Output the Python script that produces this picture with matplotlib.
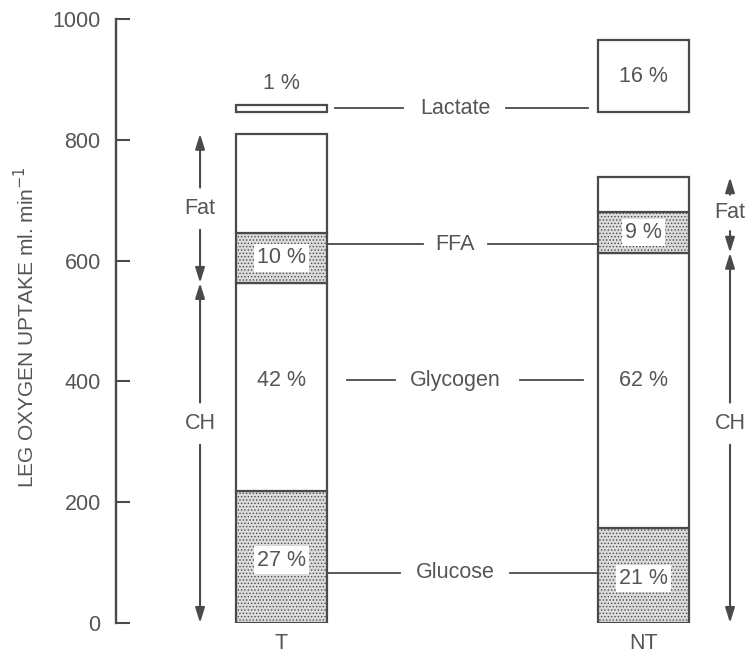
import matplotlib.pyplot as plt
import matplotlib as mpl

plt.rcParams['font.family'] = ['Liberation Sans', 'DejaVu Sans']
plt.rcParams['hatch.color'] = '#9a9a9a'
plt.rcParams['hatch.linewidth'] = 0.6

# data (ml/min)
groups = ['T', 'NT']
glucose = [218, 157]
glycogen = [345, 456]
ffa = [83, 67]
other_fat = [164, 58]
lactate_base = [846, 846]
lactate = [12, 119]

pct_glucose = ['27 %', '21 %']
pct_glycogen = ['42 %', '62 %']
pct_ffa = ['10 %', '9 %']
pct_lactate = ['1 %', '16 %']

row_names = ['Lactate', 'FFA', 'Glycogen', 'Glucose']
row_y = [852, 627, 402, 83]

ink = '#4a4a4a'
txt = '#555555'
shade = '#dcdcdc'
fs = 15.5

fig = plt.figure(figsize=(7.45, 6.57), dpi=100)
ax = fig.add_axes([116 / 745, 34 / 657, 624 / 745, 604 / 657])

xpos = [0, 1]
w = 0.254

# stacked bars
b1 = glucose
b2 = [a + b for a, b in zip(b1, glycogen)]
b3 = [a + b for a, b in zip(b2, ffa)]
ax.bar(xpos, glucose, w, color=shade, hatch='.....', edgecolor=ink, linewidth=1.6, align='center')
ax.bar(xpos, glycogen, w, bottom=b1, color='white', edgecolor=ink, linewidth=1.6)
ax.bar(xpos, ffa, w, bottom=b2, color=shade, hatch='.....', edgecolor=ink, linewidth=1.6)
ax.bar(xpos, other_fat, w, bottom=b3, color='white', edgecolor=ink, linewidth=1.6)
ax.bar(xpos, lactate, w, bottom=lactate_base, color='white', edgecolor=ink, linewidth=1.6)

box = dict(boxstyle='square,pad=0.15', fc='white', ec='none')
for i, x in enumerate(xpos):
    ax.text(x, glucose[i] / 2 - 5, pct_glucose[i], ha='center', va='center', fontsize=fs, color=txt, bbox=box)
    ax.text(x, row_y[2], pct_glycogen[i], ha='center', va='center', fontsize=fs, color=txt)
    ax.text(x, b2[i] + ffa[i] / 2, pct_ffa[i], ha='center', va='center', fontsize=fs, color=txt, bbox=box)
# lactate labels
ax.text(xpos[0], lactate_base[0] + lactate[0] + 35, pct_lactate[0], ha='center', va='center', fontsize=fs, color=txt)
ax.text(xpos[1], lactate_base[1] + lactate[1] / 2, pct_lactate[1], ha='center', va='center', fontsize=fs, color=txt)

# middle labels with connector lines
xc = 0.48
segs = {
    'Lactate': [(0.148, 0.335), (0.62, 0.846)],
    'FFA': [(0.127, 0.391), (0.57, 0.873)],
    'Glycogen': [(0.18, 0.313), (0.66, 0.833)],
    'Glucose': [(0.127, 0.326), (0.63, 0.873)],
}
for name, y in zip(row_names, row_y):
    ax.text(xc, y, name, ha='center', va='center', fontsize=fs, color=txt)
    for a, b in segs[name]:
        ax.plot([a, b], [y, y], color=ink, lw=1.3)

# Fat / CH range arrows
ap = dict(arrowstyle='-|>,head_length=0.9,head_width=0.28', color=ink, lw=1.5, shrinkA=0, shrinkB=0)


def range_arrow(x, lo, hi, label, ylab, gap):
    ax.annotate('', xy=(x, hi), xytext=(x, ylab + gap), arrowprops=ap)
    ax.annotate('', xy=(x, lo), xytext=(x, ylab - gap), arrowprops=ap)
    ax.text(x, ylab, label, ha='center', va='center', fontsize=fs, color=txt)


range_arrow(-0.225, b2[0], b3[0] + other_fat[0], 'Fat', 686, 35)
range_arrow(-0.225, 0, b2[0], 'CH', 330, 35)
range_arrow(1.239, b2[1], b3[1] + other_fat[1], 'Fat', 679, 30)
range_arrow(1.239, 0, b2[1], 'CH', 330, 35)

ax.set_xlim((116 - 281.5) / 362, (740 - 281.5) / 362)
ax.set_ylim(0, 1000)
ax.set_xticks(xpos)
ax.set_xticklabels(groups, fontsize=fs, color=txt)
ax.tick_params(axis='x', length=0, pad=7)
ax.set_yticks([0, 200, 400, 600, 800, 1000])
ax.tick_params(axis='y', direction='in', length=10, width=1.5, color=ink, labelsize=fs, labelcolor=txt, pad=11)
for s in ['top', 'right', 'bottom']:
    ax.spines[s].set_visible(False)
ax.spines['left'].set_color(ink)
ax.spines['left'].set_linewidth(1.7)
ax.spines['left'].set_bounds(0, 1000)
ax.set_ylabel('LEG OXYGEN UPTAKE ml. min$^{-1}$', fontsize=15, color=txt)
ax.yaxis.set_label_coords(-0.125, 0.49)
ax.patch.set_alpha(0)

fig.savefig('out.png', dpi=100)
